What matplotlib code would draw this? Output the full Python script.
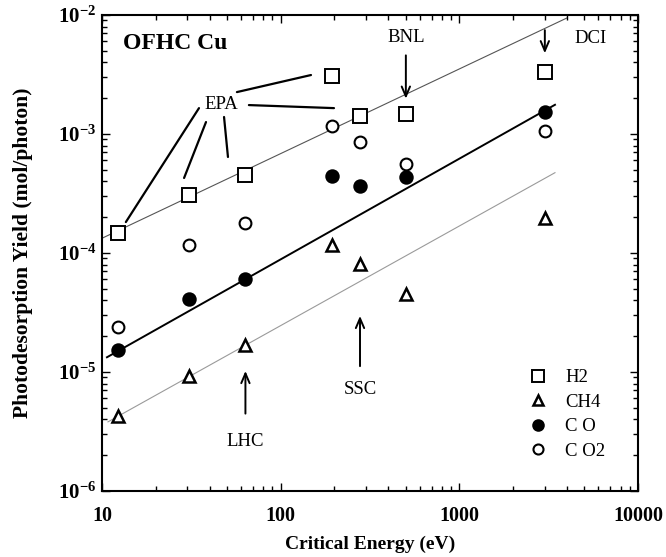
import matplotlib
matplotlib.use("Agg")
import matplotlib.pyplot as plt
from matplotlib.ticker import FixedLocator, FuncFormatter, LogLocator, NullFormatter

plt.rcParams["font.family"] = ["Liberation Serif", "DejaVu Serif"]
plt.rcParams["mathtext.fontset"] = "custom"
plt.rcParams["mathtext.rm"] = "Liberation Serif"
plt.rcParams["mathtext.bf"] = "Liberation Serif:bold"

# Critical photon energies of the machines (eV)
energy = [12.3, 30.5, 63.5, 194, 278, 502, 3010]

# Photodesorption yields (molecules/photon)
h2 = [1.47e-4, 3.10e-4, 4.55e-4, 3.10e-3, 1.42e-3, 1.48e-3, 3.29e-3]
ch4 = [4.29e-6, 9.24e-6, 1.67e-5, 1.17e-4, 8.1e-5, 4.5e-5, 1.96e-4]
co = [1.52e-5, 4.09e-5, 6.10e-5, 4.47e-4, 3.69e-4, 4.38e-4, 1.54e-3]
co2 = [2.40e-5, 1.17e-4, 1.78e-4, 1.17e-3, 8.58e-4, 5.62e-4, 1.06e-3]

# Power-law fit lines (end points)
fit_h2_e, fit_h2_y = [10.0, 4000], [1.33e-4, 9.44e-3]
fit_co_e, fit_co_y = [10.66, 3430], [1.33e-5, 1.76e-3]
fit_ch4_e, fit_ch4_y = [10.8, 3430], [3.81e-6, 4.73e-4]

xticks = [10, 100, 1000, 10000]
xtick_labels = ["10", "100", "1000", "10000"]
yticks = [1e-6, 1e-5, 1e-4, 1e-3, 1e-2]
ytick_labels = ["-6", "-5", "-4", "-3", "-2"]

fig = plt.figure(figsize=(6.66, 5.57), dpi=100)
ax = fig.add_axes([102 / 666, 66 / 557, 536 / 666, 476 / 557])
ax.set_xscale("log")
ax.set_yscale("log")
ax.set_xlim(10, 10000)
ax.set_ylim(1e-6, 1e-2)

ax.plot(fit_h2_e, fit_h2_y, color="#555555", lw=0.8, zorder=1)
ax.plot(fit_co_e, fit_co_y, color="black", lw=1.4, zorder=1)
ax.plot(fit_ch4_e, fit_ch4_y, color="#9a9a9a", lw=0.8, zorder=1)

ax.plot(energy, h2, ls="none", marker="s", ms=9.5, mfc="white", mec="black",
        mew=1.4, label="H2", zorder=3)
ax.plot(energy, ch4, ls="none", marker="^", ms=8, mfc="white", mec="black",
        mew=1.8, label="CH4", zorder=3)
ax.plot(energy, co, ls="none", marker="o", ms=9, mfc="black", mec="black",
        mew=1.4, label="C O", zorder=3)
ax.plot(energy, co2, ls="none", marker="o", ms=8.5, mfc="white", mec="black",
        mew=1.5, label="C O2", zorder=2)

# Axis styling
for s in ax.spines.values():
    s.set_linewidth(1.5)
ax.xaxis.set_major_locator(FixedLocator(xticks))
ax.xaxis.set_major_formatter(FuncFormatter(lambda v, p: xtick_labels[xticks.index(round(v))] if round(v) in xticks else ""))
ax.xaxis.set_minor_locator(LogLocator(base=10, subs=range(2, 10)))
ax.xaxis.set_minor_formatter(NullFormatter())
ax.yaxis.set_major_locator(FixedLocator(yticks))
ax.yaxis.set_major_formatter(FuncFormatter(
    lambda v, p: r"$\mathbf{10^{%s}}$" % ytick_labels[p] if p is not None and p < len(ytick_labels) else ""))
ax.yaxis.set_minor_locator(LogLocator(base=10, subs=range(2, 10)))
ax.yaxis.set_minor_formatter(NullFormatter())
ax.tick_params(which="both", direction="in", top=True, right=True, width=1.0)
ax.tick_params(which="major", length=6)
ax.tick_params(which="minor", length=3.5)
ax.tick_params(axis="x", which="major", pad=11, labelsize=14.5)
ax.tick_params(axis="y", which="major", pad=4, labelsize=15)
for lab in ax.get_xticklabels():
    lab.set_fontweight("bold")

ax.set_xlabel("Critical Energy (eV)", fontsize=14, fontweight="bold", labelpad=7)
ax.set_ylabel("Photodesorption Yield (mol/photon)", fontsize=15.5, fontweight="bold", labelpad=18)

# Sample label
ax.text(0.039, 0.941, "OFHC Cu", transform=ax.transAxes, fontsize=17,
        fontweight="bold", ha="left", va="center")

# EPA leader lines
ax.text(46.3, 1.76e-3, "EPA", fontsize=13.5, ha="center", va="center")
leaders = [((34.9, 1.65e-3), (13.6, 1.82e-4)),
           ((38.2, 1.26e-3), (28.8, 4.27e-4)),
           ((48.2, 1.39e-3), (50.7, 6.41e-4)),
           ((56.9, 2.25e-3), (147.8, 3.13e-3)),
           ((66.4, 1.75e-3), (198.8, 1.65e-3))]
for (x0, y0), (x1, y1) in leaders:
    ax.annotate("", xy=(x1, y1), xytext=(x0, y0),
                arrowprops=dict(arrowstyle="-", lw=1.6, color="black",
                                shrinkA=0, shrinkB=0))

arrow_kw = dict(arrowstyle="->,head_length=0.7,head_width=0.3", lw=1.4,
                color="black", shrinkA=0, shrinkB=0)

# Machine markers
ax.text(energy[5], 6.51e-3, "BNL", fontsize=13.5, ha="center", va="center")
ax.annotate("", xy=(energy[5], 1.98e-3), xytext=(energy[5], 4.58e-3), arrowprops=arrow_kw)
ax.text(5445, 6.38e-3, "DCI", fontsize=13.5, ha="center", va="center")
ax.annotate("", xy=(energy[6], 4.77e-3), xytext=(energy[6], 7.46e-3), arrowprops=arrow_kw)
ax.text(energy[2], 2.62e-6, "LHC", fontsize=13.5, ha="center", va="center")
ax.annotate("", xy=(energy[2], 1.02e-5), xytext=(energy[2], 4.47e-6), arrowprops=arrow_kw)
ax.text(energy[4], 7.16e-6, "SSC", fontsize=13.5, ha="center", va="center")
ax.annotate("", xy=(energy[4], 2.96e-5), xytext=(energy[4], 1.12e-5), arrowprops=arrow_kw)

ax.legend(loc="upper left", bbox_to_anchor=(0.796, (491 - 369) / 476),
          frameon=False, fontsize=13.5, handlelength=1.0, handletextpad=0.94,
          labelspacing=0.4, borderpad=0, borderaxespad=0, numpoints=1,
          markerscale=0.85)

fig.savefig("out.png", dpi=100)
